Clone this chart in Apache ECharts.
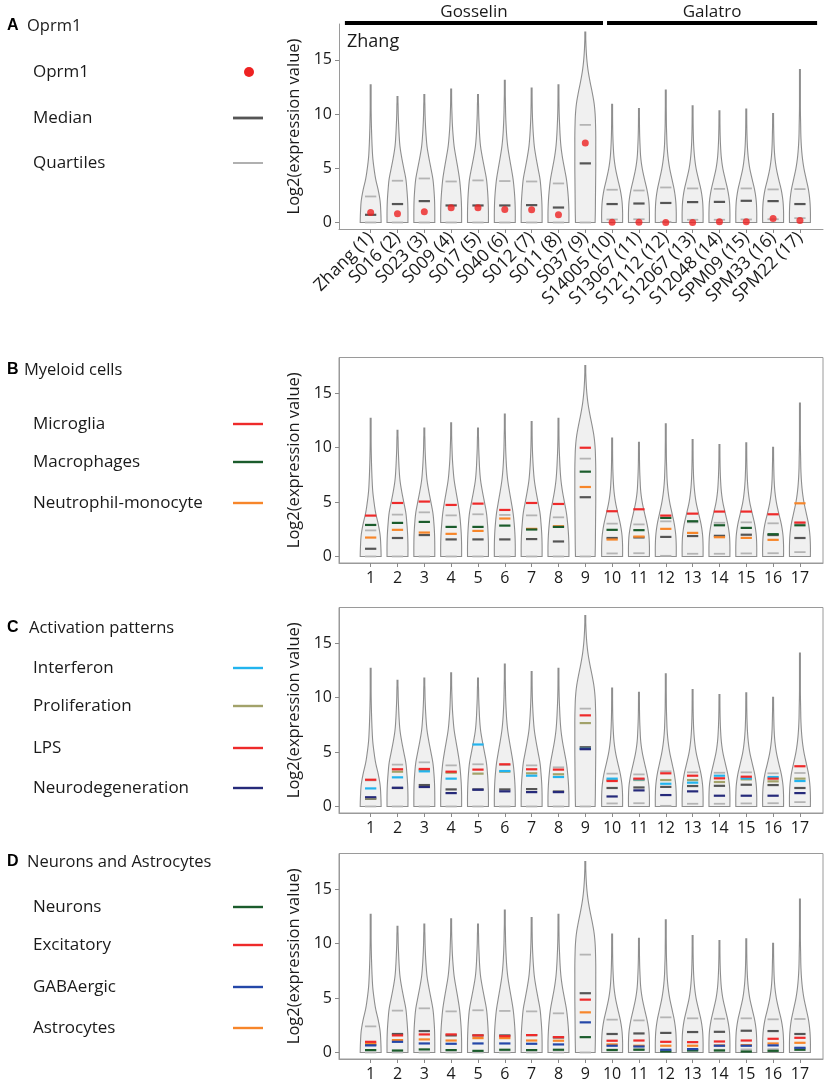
<!DOCTYPE html>
<html><head><meta charset="utf-8">
<script src="https://cdn.jsdelivr.net/npm/echarts@6/dist/echarts.min.js"></script>
<style>html,body{margin:0;padding:0;background:#fff}#c{width:835px;height:1086px}</style>
</head><body><div id="c"></div>
<script>
// ---------------- DATA ----------------
const SAMPLE_NAMES = ['Zhang (1)','S016 (2)','S023 (3)','S009 (4)','S017 (5)','S040 (6)','S012 (7)','S011 (8)','S037 (9)',
  'S14005 (10)','S13067 (11)','S12112 (12)','S12067 (13)','S12048 (14)','SPM09 (15)','SPM33 (16)','SPM22 (17)'];
const SAMPLE_NUMBERS = [1,2,3,4,5,6,7,8,9,10,11,12,13,14,15,16,17];
const Y_TICKS = [0,5,10,15];
const GROUP_NAMES = ['Gosselin','Galatro'];
const GROUP_START = [0.04, 9.81];
const GROUP_END = [9.66, 17.64];

// violin top (max log2 expression) per sample
const VIOLIN_MAX = [12.7,11.6,11.8,12.3,11.8,13.1,12.4,12.7,17.55,10.9,10.5,12.2,10.75,10.3,10.45,10.05,14.1];
// relative density (half-width) at expression levels 0,1,2,...
const DENSITY_LEVELS = [0,1,2,3,4,5,6,7,8,9,10,11,12,13,14,15,16,17];
const DENSITY = [
  [1.00,0.97,0.90,0.72,0.48,0.32,0.20,0.14,0.10,0.07,0.05,0.04,0.03],
  [1.00,1.00,0.97,0.90,0.80,0.60,0.40,0.24,0.16,0.11,0.07,0.05],
  [1.00,1.00,0.98,0.92,0.82,0.63,0.43,0.26,0.17,0.11,0.07,0.05],
  [1.00,1.00,0.97,0.90,0.80,0.64,0.46,0.29,0.19,0.12,0.08,0.05,0.04],
  [1.00,1.00,0.97,0.91,0.81,0.62,0.42,0.25,0.16,0.11,0.07,0.05],
  [1.00,1.00,0.97,0.90,0.79,0.62,0.44,0.28,0.18,0.12,0.08,0.06,0.04,0.03],
  [1.00,1.00,0.97,0.90,0.80,0.61,0.42,0.26,0.17,0.11,0.07,0.05,0.04],
  [1.00,1.00,0.96,0.88,0.76,0.57,0.38,0.24,0.16,0.11,0.07,0.05,0.04],
  [0.94,0.96,0.97,0.98,0.99,1.00,1.00,1.00,1.00,0.98,0.94,0.84,0.66,0.45,0.27,0.15,0.08,0.04],
  [1.00,1.00,0.94,0.78,0.54,0.32,0.18,0.11,0.07,0.05,0.04],
  [1.00,1.00,0.94,0.77,0.53,0.31,0.17,0.11,0.07,0.05,0.04],
  [1.00,1.00,0.95,0.81,0.59,0.37,0.22,0.13,0.09,0.06,0.05,0.04,0.03],
  [1.00,1.00,0.95,0.80,0.56,0.33,0.19,0.11,0.07,0.05,0.04],
  [1.00,1.00,0.95,0.79,0.55,0.32,0.18,0.11,0.07,0.05,0.04],
  [1.00,1.00,0.95,0.80,0.56,0.33,0.19,0.11,0.07,0.05,0.04],
  [1.00,1.00,0.94,0.78,0.53,0.31,0.17,0.10,0.07,0.05,0.04],
  [1.00,1.00,0.95,0.82,0.60,0.38,0.23,0.14,0.09,0.07,0.05,0.04,0.03,0.03,0.03]
];
const Q1 = [0,0,0,0,0,0,0,0,0,0.28,0.3,0.06,0.25,0.25,0.28,0.3,0.4];
const MEDIAN = [0.71,1.7,1.97,1.57,1.57,1.57,1.6,1.38,5.45,1.7,1.75,1.8,1.88,1.9,2.0,1.97,1.7];
const Q3 = [2.4,3.85,4.06,3.78,3.88,3.82,3.78,3.6,9.0,3.02,2.95,3.23,3.14,3.1,3.14,3.05,3.08];

// A: Oprm1
const OPRM1 = [0.92,0.8,1.0,1.35,1.35,1.2,1.17,0.71,7.32,0.03,0.03,0.0,0.0,0.06,0.06,0.37,0.18];
// B: myeloid cells
const MICROGLIA = [3.76,4.92,5.05,4.74,4.86,4.28,4.92,4.83,10.0,4.16,4.34,3.76,3.94,4.13,4.13,3.88,3.12];
const MACROPHAGES = [2.9,3.09,3.18,2.72,2.72,2.84,2.48,2.72,7.8,2.45,2.42,3.55,3.24,2.87,2.63,2.05,2.87];
const NEUTROPHIL_MONOCYTE = [1.74,2.45,2.2,2.08,2.35,3.49,2.54,2.78,6.39,1.56,1.83,2.54,2.17,1.77,1.71,1.53,4.89];
// C: activation patterns
const INTERFERON = [1.66,2.68,3.23,2.56,5.7,3.26,2.83,2.71,5.3,2.56,2.5,2.09,2.19,2.83,2.59,2.71,2.34];
const PROLIFERATION = [0.75,3.2,3.36,3.11,3.02,3.2,3.05,2.96,7.67,2.43,2.43,2.43,2.43,2.25,2.49,2.31,2.56];
const LPS = [2.46,3.42,3.45,3.2,3.39,3.88,3.42,3.39,8.38,2.34,2.56,3.05,2.83,2.59,2.74,2.56,3.7];
const NEURODEGENERATION = [0.85,1.72,1.79,1.23,1.54,1.39,1.32,1.32,5.27,0.92,1.48,1.05,1.39,0.99,0.99,0.99,1.23];
// D: neurons and astrocytes
const NEURONS = [0.22,0.18,0.28,0.22,0.15,0.25,0.22,0.25,1.41,0.22,0.25,0.09,0.18,0.18,0.09,0.15,0.25];
const EXCITATORY = [0.98,1.57,1.66,1.66,1.57,1.5,1.6,1.41,4.86,1.08,1.1,0.98,0.95,1.01,1.1,1.26,1.35];
const GABAERGIC = [0.65,0.98,0.83,0.8,0.83,0.83,0.8,0.74,2.77,0.62,0.55,0.25,0.31,0.62,0.62,0.65,0.43];
const ASTROCYTES = [0.83,1.14,1.2,1.1,1.32,1.32,1.1,1.08,3.69,0.74,0.62,0.62,0.62,0.65,0.68,0.83,0.89];

// ---------------- STYLE ----------------
const FONT = '"Open Sans", "DejaVu Sans", sans-serif';
const C_RED = '#ee2a2a', C_GREEN = '#1b5c2c', C_ORANGE = '#f7862a', C_LBLUE = '#22b4ee',
      C_OLIVE = '#a2a26a', C_NAVY = '#262a7a', C_BLUE = '#2447a8', C_MED = '#555555', C_QUART = '#b4b4b4';
const VIOLIN_HALF = 0.39;   // x-units
const LINE_HALF = 0.21;     // x-units
const X_MIN = -0.18, X_MAX = 17.86, Y_MIN = -0.6, Y_MAX = 18.3;

const PANELS = [
  {top:24,    height:205, box:false, rotate:true},
  {top:357.5, height:205.5, box:true, rotate:false},
  {top:607.5, height:205.5, box:true, rotate:false},
  {top:853.5, height:205.5, box:true, rotate:false}
];

function cr(p0,p1,p2,p3,t){
  const t2=t*t, t3=t2*t;
  return 0.5*((2*p1)+(-p0+p2)*t+(2*p0-5*p1+4*p2-p3)*t2+(-p0+3*p1-3*p2+p3)*t3);
}

function violinItem(params, api){
  const i = params.dataIndex;
  const xv = api.value(0);
  const top = VIOLIN_MAX[i];
  const ys = DENSITY_LEVELS.filter(l => l < top).concat([top]);
  const ws = DENSITY[i].slice(0, ys.length - 1).concat([0]);
  const n = ys.length;
  const hw = api.size([VIOLIN_HALF, 0])[0];
  const pts = [];
  for (let k = 0; k < n - 1; k++){
    const w0 = ws[Math.max(k-1,0)], w1 = ws[k], w2 = ws[k+1], w3 = ws[Math.min(k+2,n-1)];
    const steps = 10;
    for (let s = 0; s < steps; s++){
      const t = s/steps;
      pts.push([Math.max(cr(w0,w1,w2,w3,t),0), ys[k] + (ys[k+1]-ys[k])*t]);
    }
  }
  pts.push([0, top]);
  const right = pts.map(p => { const c = api.coord([xv, p[1]]); return [c[0] + Math.max(hw*p[0], 0.45), c[1]]; });
  const left = pts.slice().reverse().map(p => { const c = api.coord([xv, p[1]]); return [c[0] - Math.max(hw*p[0], 0.45), c[1]]; });
  return {type:'polygon', shape:{points: right.concat(left)},
          style:{fill:'#f0f0f0', stroke:'#8e8e8e', lineWidth:1.1}};
}

function hLine(api, xv, yv, color, width){
  const c = api.coord([xv, yv]);
  const hl = api.size([LINE_HALF, 0])[0];
  return {type:'line', shape:{x1:c[0]-hl, y1:c[1], x2:c[0]+hl, y2:c[1]},
          style:{stroke:color, lineWidth:width}};
}

function statsItem(params, api){
  const i = params.dataIndex;
  const xv = api.value(0);
  return {type:'group', children:[
    hLine(api, xv, Q1[i], C_QUART, 1.8),
    hLine(api, xv, Q3[i], C_QUART, 1.8),
    hLine(api, xv, MEDIAN[i], C_MED, 2.2)
  ]};
}

function markerSeries(gi, name, values, color){
  return {type:'custom', name:name, xAxisIndex:gi, yAxisIndex:gi, z:5,
    data: values.map((v,i)=>[SAMPLE_NUMBERS[i], v]),
    encode:{x:0, y:1},
    renderItem:(params, api)=>hLine(api, api.value(0), api.value(1), color, 2.2)};
}

const grids = [], xAxes = [], yAxes = [], series = [];
PANELS.forEach((p, gi) => {
  grids.push({left:339, width:484, top:p.top, height:p.height, show:p.box, borderColor:'#9a9a9a', borderWidth:1, backgroundColor:'transparent'});
  xAxes.push({type:'value', gridIndex:gi, min:X_MIN, max:X_MAX,
    axisLine:{show:true, onZero:false, lineStyle:{color:'#9a9a9a', width:1}},
    axisTick:{show:true, length:4, customValues:SAMPLE_NUMBERS, lineStyle:{color:'#8a8a8a'}},
    splitLine:{show:false},
    axisLabel:{customValues:SAMPLE_NUMBERS, fontFamily:FONT, fontSize: p.rotate ? 17.5 : 16, color:'#1a1a1a',
      margin: p.rotate ? 6 : 7, rotate: p.rotate ? 45 : 0,
      formatter: v => p.rotate ? SAMPLE_NAMES[Math.round(v)-1] : String(Math.round(v))}
  });
  yAxes.push({type:'value', gridIndex:gi, min:Y_MIN, max:Y_MAX,
    name:'Log2(expression value)', nameLocation:'middle', nameGap:36,
    nameTextStyle:{fontFamily:FONT, fontSize:16.5, color:'#1a1a1a'},
    axisLine:{show:true, onZero:false, lineStyle:{color:'#9a9a9a', width:1}},
    axisTick:{show:true, length:4, customValues:Y_TICKS, lineStyle:{color:'#8a8a8a'}},
    splitLine:{show:false},
    axisLabel:{customValues:Y_TICKS, fontFamily:FONT, fontSize:16, color:'#1a1a1a', margin:7}
  });
  series.push({type:'custom', name:'violin'+gi, xAxisIndex:gi, yAxisIndex:gi, z:2,
    data: SAMPLE_NUMBERS.map((n,i)=>[n, VIOLIN_MAX[i]]), encode:{x:0,y:1}, renderItem:violinItem});
  series.push({type:'custom', name:'stats'+gi, xAxisIndex:gi, yAxisIndex:gi, z:3,
    data: SAMPLE_NUMBERS.map((n,i)=>[n, MEDIAN[i]]), encode:{x:0,y:1}, renderItem:statsItem});
});

// Panel A: Oprm1 dots + group bars
series.push({type:'scatter', name:'Oprm1', xAxisIndex:0, yAxisIndex:0, z:6, symbolSize:7,
  itemStyle:{color:'#ee2222'}, data: OPRM1.map((v,i)=>[SAMPLE_NUMBERS[i], v])});
series.push({type:'custom', name:'groups', xAxisIndex:0, yAxisIndex:0, z:6, clip:false,
  data: GROUP_NAMES.map((g,i)=>[GROUP_START[i], GROUP_END[i]]),
  renderItem:(params, api)=>{
    const i = params.dataIndex;
    const a = api.coord([api.value(0), Y_MAX]);
    const b = api.coord([api.value(1), Y_MAX]);
    const y = a[1] - 1;
    return {type:'group', children:[
      {type:'line', shape:{x1:a[0], y1:y, x2:b[0], y2:y}, style:{stroke:'#000', lineWidth:4}},
      {type:'text', x:(a[0]+b[0])/2, y:y-11, style:{text:GROUP_NAMES[i], fill:'#1a1a1a', font:'17px '+FONT, align:'center', verticalAlign:'middle'}}
    ]};
  }});
// Panel B
series.push(markerSeries(1,'Neutrophil-monocyte',NEUTROPHIL_MONOCYTE,C_ORANGE));
series.push(markerSeries(1,'Macrophages',MACROPHAGES,C_GREEN));
series.push(markerSeries(1,'Microglia',MICROGLIA,C_RED));
// Panel C
series.push(markerSeries(2,'Proliferation',PROLIFERATION,C_OLIVE));
series.push(markerSeries(2,'Interferon',INTERFERON,C_LBLUE));
series.push(markerSeries(2,'LPS',LPS,C_RED));
series.push(markerSeries(2,'Neurodegeneration',NEURODEGENERATION,C_NAVY));
// Panel D
series.push(markerSeries(3,'Neurons',NEURONS,C_GREEN));
series.push(markerSeries(3,'Astrocytes',ASTROCYTES,C_ORANGE));
series.push(markerSeries(3,'GABAergic',GABAERGIC,C_BLUE));
series.push(markerSeries(3,'Excitatory',EXCITATORY,C_RED));

// ---------------- LEFT LEGENDS (graphic) ----------------
const LEGENDS = [
  {letter:'A', title:'Oprm1', ty:26, tx:27, items:[
    {label:'Oprm1', y:72, kind:'dot', color:'#ee2222'},
    {label:'Median', y:118, kind:'line', color:C_MED, w:2.8},
    {label:'Quartiles', y:163, kind:'line', color:'#a8a8a8', w:1.8}]},
  {letter:'B', title:'Myeloid cells', ty:370, tx:24, items:[
    {label:'Microglia', y:424, color:C_RED},
    {label:'Macrophages', y:462, color:C_GREEN},
    {label:'Neutrophil-monocyte', y:503, color:C_ORANGE}]},
  {letter:'C', title:'Activation patterns', ty:628, tx:29, items:[
    {label:'Interferon', y:668, color:C_LBLUE},
    {label:'Proliferation', y:706, color:C_OLIVE},
    {label:'LPS', y:748, color:C_RED},
    {label:'Neurodegeneration', y:788, color:C_NAVY}]},
  {letter:'D', title:'Neurons and Astrocytes', ty:862, tx:27, items:[
    {label:'Neurons', y:907, color:C_GREEN},
    {label:'Excitatory', y:945, color:C_RED},
    {label:'GABAergic', y:987, color:C_BLUE},
    {label:'Astrocytes', y:1028, color:C_ORANGE}]}
];
const graphic = [];
LEGENDS.forEach(L => {
  graphic.push({type:'text', x:7, y:L.ty, style:{text:L.letter, font:'bold 16px "Liberation Sans", Arial, sans-serif', fill:'#000', verticalAlign:'middle'}});
  graphic.push({type:'text', x:L.tx, y:L.ty, style:{text:L.title, font:'16.5px '+FONT, fill:'#1a1a1a', verticalAlign:'middle'}});
  L.items.forEach(it => {
    graphic.push({type:'text', x:33, y:it.y, style:{text:it.label, font:'17px '+FONT, fill:'#1a1a1a', verticalAlign:'middle'}});
    if (it.kind === 'dot') {
      graphic.push({type:'circle', shape:{cx:249, cy:it.y, r:5}, style:{fill:it.color}});
    } else {
      graphic.push({type:'line', shape:{x1:233, y1:it.y, x2:263, y2:it.y}, style:{stroke:it.color, lineWidth:it.w || 2.4}});
    }
  });
});
graphic.push({type:'text', x:347, y:42, style:{text:'Zhang', font:'18px '+FONT, fill:'#1a1a1a', verticalAlign:'middle'}});

const chart = echarts.init(document.getElementById('c'), null, {renderer:'canvas'});
chart.setOption({
  backgroundColor:'#ffffff',
  animation:false,
  textStyle:{fontFamily:FONT},
  grid:grids, xAxis:xAxes, yAxis:yAxes, series:series, graphic:graphic
});
</script>
</body></html>
